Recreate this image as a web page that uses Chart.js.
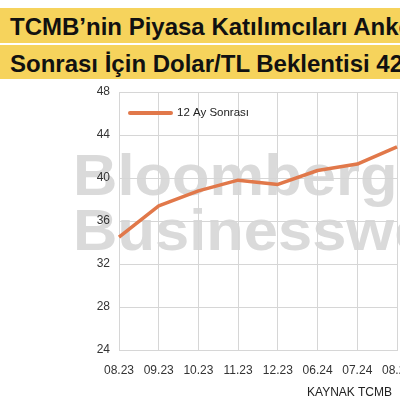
<!DOCTYPE html>
<html lang="tr">

<head>
  <meta charset="UTF-8" />
  <title>Dolar/TL Beklentisi</title>
  <script src="https://cdn.jsdelivr.net/npm/chart.js@4.4.1/dist/chart.umd.min.js"></script>
  <style>
    html, body { margin: 0; padding: 0; background: #fff; }
    body { width: 400px; height: 400px; overflow: hidden; position: relative; font-family: "Liberation Sans", Arial, sans-serif; }
    .band { position: absolute; left: 0; width: 400px; background: #f6d35c; white-space: nowrap; overflow: hidden;
      font-weight: bold; font-size: 24px; color: #111; padding-left: 10px; box-sizing: border-box; }
    #band1 { top: 8px; height: 35px; line-height: 37px; }
    #band2 { top: 45px; height: 34px; line-height: 37px; }
    #chart { position: absolute; left: 0; top: 0; }
    #source { position: absolute; right: 8px; top: 385px; font-size: 12px; color: #222; }
  </style>
</head>

<body>
  <div class="band" id="band1">TCMB’nin Piyasa Katılımcıları Anketi: 12 Ay</div>
  <div class="band" id="band2">Sonrası İçin Dolar/TL Beklentisi 42,9</div>
  <canvas id="chart" width="440" height="400"></canvas>
  <div id="source">KAYNAK TCMB</div>

  <script>
    // data
    const months = ['08.23', '09.23', '10.23', '11.23', '12.23', '06.24', '07.24', '08.24'];
    const expectation = [34.5, 37.4, 38.8, 39.8, 39.4, 40.7, 41.3, 42.9];
    const seriesName = '12 Ay Sonrası';
    const yTicks = [24, 28, 32, 36, 40, 44, 48];

    const lineColor = '#e1784a';
    const gridColor = '#d6d6d6';

    Chart.defaults.font.family = '"Liberation Sans", Arial, sans-serif';
    Chart.defaults.font.size = 12;
    Chart.defaults.color = '#333';

    // grey watermark behind the grid
    const watermark = {
      id: 'watermark',
      beforeDraw(chart) {
        const ctx = chart.ctx;
        const a = chart.chartArea;
        ctx.save();
        ctx.fillStyle = '#dadada';
        ctx.font = 'bold 58px "Liberation Sans", Arial, sans-serif';
        ctx.textBaseline = 'alphabetic';
        ctx.translate(a.left - 46, 0);
        ctx.scale(1.06, 1);
        ctx.fillText('Bloomberg', 0, 195);
        ctx.fillText('Businessweek', 0, 250);
        ctx.restore();
      }
    };

    // legend drawn inside the plot, top left
    const innerLegend = {
      id: 'innerLegend',
      afterDraw(chart) {
        const ctx = chart.ctx;
        const a = chart.chartArea;
        const y = a.top + 21;
        ctx.save();
        ctx.strokeStyle = lineColor;
        ctx.lineWidth = 4;
        ctx.lineCap = 'round';
        ctx.beginPath();
        ctx.moveTo(a.left + 11, y);
        ctx.lineTo(a.left + 52, y);
        ctx.stroke();
        ctx.fillStyle = '#222';
        ctx.font = '11.5px "Liberation Sans", Arial, sans-serif';
        ctx.textBaseline = 'middle';
        ctx.fillText(chart.data.datasets[0].label, a.left + 58, y);
        ctx.restore();
      }
    };

    new Chart(document.getElementById('chart'), {
      type: 'line',
      data: {
        labels: months,
        datasets: [{
          label: seriesName,
          data: expectation,
          borderColor: lineColor,
          borderWidth: 3.5,
          pointRadius: 0,
          tension: 0,
          borderJoinStyle: 'round'
        }]
      },
      options: {
        responsive: false,
        animation: false,
        layout: { padding: { top: 92, right: 43, left: 0, bottom: 0 } },
        plugins: {
          legend: { display: false },
          tooltip: { enabled: false }
        },
        scales: {
          x: {
            offset: false,
            grid: { color: gridColor, drawTicks: false },
            border: { color: gridColor },
            ticks: { padding: 13, maxRotation: 0, autoSkip: false, color: '#333' },
            afterFit(scale) { scale.height = 50; }
          },
          y: {
            min: 24,
            max: 48,
            grid: { color: gridColor, drawTicks: false },
            border: { color: gridColor },
            afterBuildTicks(scale) { scale.ticks = yTicks.map(v => ({ value: v })); },
            ticks: { padding: 9, color: '#333' },
            afterFit(scale) { scale.width = 119; }
          }
        }
      },
      plugins: [watermark, innerLegend]
    });
  </script>
</body>

</html>
